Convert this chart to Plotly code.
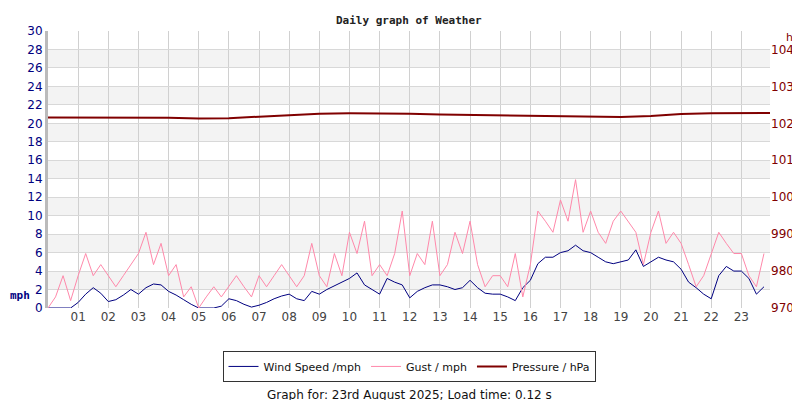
import plotly.graph_objects as go

hours_q = [i / 4 for i in range(96)]
wind = [0,0,0,0, 0.6,1.5,2.2,1.6, 0.7,0.9,1.4,2.0, 1.5,2.2,2.6,2.5, 1.8,1.4,0.9,0.4,
        0,0,0,0.2, 1.0,0.8,0.4,0.1, 0.3,0.6,1.0,1.3, 1.5,1.0,0.8,1.8, 1.5,2.0,2.4,2.8,
        3.2,3.8,2.5,2.0, 1.5,3.2,2.8,2.5, 1.1,1.8,2.2,2.5, 2.5,2.3,2.0,2.2, 3.0,2.2,1.6,1.5,
        1.5,1.2,0.8,2.2, 3.0,4.8,5.5,5.5, 6.0,6.2,6.8,6.2, 6.0,5.5,5.0,4.8, 5.0,5.2,6.3,4.5,
        5.0,5.5,5.2,5.0, 4.2,2.8,2.2,1.5, 1.0,3.5,4.5,4.0, 4.0,3.2,1.5,2.3]
gust = [0,1.2,3.5,0.8, 3.5,5.9,3.5,4.7, 3.5,2.3,3.5,4.7, 5.9,8.2,4.7,7.0, 3.5,4.7,1.2,2.3,
        0,1.2,2.3,1.2, 2.3,3.5,2.3,1.2, 3.5,2.3,3.5,4.7, 3.5,2.3,3.5,7.0, 3.5,2.3,5.9,3.5,
        8.2,5.9,9.4,3.5, 4.7,3.5,5.9,10.5, 3.5,5.9,4.7,9.4, 3.5,4.7,8.2,5.9, 9.4,4.7,2.3,3.5,
        3.5,2.3,5.9,1.2, 4.7,10.5,9.4,8.2, 11.7,9.4,13.9,8.2, 10.5,8.2,7.0,9.4, 10.5,9.4,8.2,4.7,
        8.2,10.5,7.0,8.2, 7.0,4.7,2.3,3.5, 5.9,8.2,7.0,5.9, 5.9,3.5,2.3,5.9]
hours_p = list(range(25))
pressure = [1021.6,1021.6,1021.5,1021.5,1021.5,1021.3,1021.4,1021.8,1022.2,1022.6,1022.7,1022.7,
            1022.6,1022.4,1022.3,1022.3,1022.2,1022.0,1021.8,1021.7,1022.0,1022.5,1022.7,1022.8,1022.8]
tick_vals = list(range(1, 24))
tick_text = [f"{h:02d}" for h in tick_vals]

fig = go.Figure()
fig.add_trace(go.Scatter(x=hours_q, y=wind, name="Wind Speed /mph", mode="lines",
                         line=dict(color="#000080", width=1)))
fig.add_trace(go.Scatter(x=hours_q, y=gust, name="Gust / mph", mode="lines",
                         line=dict(color="#ff88aa", width=1)))
fig.add_trace(go.Scatter(x=hours_p, y=pressure, name="Pressure / hPa", mode="lines",
                         line=dict(color="#800000", width=2), yaxis="y2"))

for lo in range(2, 30, 4):
    fig.add_shape(type="rect", xref="paper", yref="y", x0=0, x1=1, y0=lo, y1=lo + 2,
                  fillcolor="#f3f3f3", line_width=0, layer="below")

fig.update_layout(
    width=800, height=400, margin=dict(l=40, r=38, t=23, b=100, autoexpand=False),
    plot_bgcolor="white", paper_bgcolor="white",
    font=dict(family="DejaVu Sans", size=11, color="#333"),
    xaxis=dict(range=[0, 23.95], tickvals=tick_vals, ticktext=tick_text, showgrid=True,
               gridcolor="#d0d0d0", zeroline=False, ticks="", tickfont=dict(size=12, color="#444"),
               automargin=False),
    yaxis=dict(range=[0, 30], dtick=2, showgrid=True, gridcolor="#d8d8d8", zeroline=False,
               tickfont=dict(size=12, color="#000080"), showline=True, linecolor="#bbb", linewidth=3,
               automargin=False),
    yaxis2=dict(range=[970, 1045], tickvals=list(range(970, 1041, 10)), overlaying="y", side="right",
                showgrid=False, zeroline=False, tickfont=dict(size=12, color="#800000"), automargin=False),
    legend=dict(orientation="h", x=0.5, xanchor="center", y=-0.155, yanchor="top",
                bordercolor="#333", borderwidth=1, font=dict(size=11, color="#111")),
    showlegend=True,
)
fig.add_annotation(text="<b>Daily graph of Weather</b>", xref="paper", yref="paper", x=0.5, y=1.0,
                   yanchor="bottom", yshift=2, showarrow=False,
                   font=dict(family="DejaVu Sans Mono", size=11, color="#222"))
fig.add_annotation(text="<b>mph</b>", xref="paper", yref="paper", x=-0.055, y=0.015, xanchor="left",
                   showarrow=False, font=dict(size=11, color="#000080", family="DejaVu Sans Mono"))
fig.add_annotation(text="hPa", xref="paper", yref="paper", x=1.02, y=0.975, xanchor="left", yanchor="middle",
                   showarrow=False, font=dict(size=11, color="#800000"))
fig.add_annotation(text="Graph for: 23rd August 2025; Load time: 0.12 s", xref="paper", yref="paper",
                   x=0.5, y=-0.314, yanchor="middle", showarrow=False, font=dict(size=12, color="#111"))
fig.write_html("out.html")
